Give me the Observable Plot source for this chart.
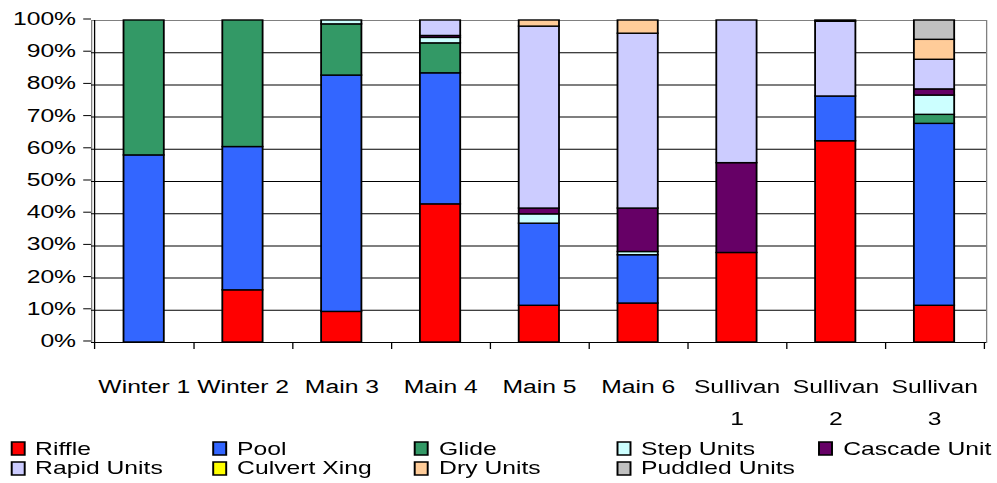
<!DOCTYPE html>
<html>
<head>
<meta charset="utf-8">
<script src="https://cdn.jsdelivr.net/npm/d3@7"></script>
<script src="https://cdn.jsdelivr.net/npm/@observablehq/plot@0.6"></script>
<style>
  html, body { margin: 0; padding: 0; background: #fff; overflow: hidden; }
  #wrap { width: 767px; transform: scaleX(1.3); transform-origin: 0 0; }
  .lg-swatches { font-family: "Liberation Sans", Arial, sans-serif; font-size: 19px; color: #000; margin: 14px 0 0 8.5px; }
  .lg-swatch { width: 155.4px; height: 19.5px; margin-right: 0; white-space: nowrap; }
  .lg-swatch > svg { margin-right: 8.5px; }
  .lg-swatch > svg rect { stroke: #000; stroke-width: 1.5px; }
</style>
</head>
<body>
<div id="wrap"></div>
<script>
// Habitat unit composition (% of surveyed length) per reach
const sites = ["Winter 1", "Winter 2", "Main 3", "Main 4", "Main 5", "Main 6", "Sullivan 1", "Sullivan 2", "Sullivan 3"];
const seriesNames = ["Riffle", "Pool", "Glide", "Step Units", "Cascade Unit", "Rapid Units", "Culvert Xing", "Dry Units", "Puddled Units"];
const seriesColors = ["#ff0000", "#3366ff", "#339966", "#ccffff", "#660066", "#ccccff", "#ffff00", "#ffcc99", "#c0c0c0"];

const riffle       = [0,    16.2, 9.5,  42.9, 11.4, 12.1, 27.8, 62.5, 11.4];
const pool         = [58.1, 44.5, 73.4, 40.7, 25.5, 15.0, 0,    13.9, 56.5];
const glide        = [41.9, 39.3, 15.9, 9.3,  0,    0,    0,    0,    2.8];
const stepUnits    = [0,    0,    1.2,  1.7,  2.9,  1.0,  0,    0,    6.0];
const cascadeUnit  = [0,    0,    0,    0.6,  1.8,  13.5, 27.9, 0,    1.9];
const rapidUnits   = [0,    0,    0,    4.8,  56.5, 54.3, 44.3, 23.2, 9.2];
const culvertXing  = [0,    0,    0,    0,    0,    0,    0,    0.4,  0];
const dryUnits     = [0,    0,    0,    0,    1.9,  4.1,  0,    0,    6.2];
const puddledUnits = [0,    0,    0,    0,    0,    0,    0,    0,    6.0];

const yTicks = [0, 10, 20, 30, 40, 50, 60, 70, 80, 90, 100];

const seriesValues = [riffle, pool, glide, stepUnits, cascadeUnit, rapidUnits, culvertXing, dryUnits, puddledUnits];
const rows = [];
seriesNames.forEach((type, i) => {
  sites.forEach((site, j) => {
    const value = seriesValues[i][j];
    if (value > 0) rows.push({site, type, value});
  });
});

// layout (the whole figure is stretched horizontally by 1.3)
const W = 997 / 1.3, H = 425;
const mL = 70, mR = 8.46, mT = 20, mB = 83;
const step = (W - mL - mR) / sites.length;
const font = "Liberation Sans, Arial, sans-serif";

const chart = Plot.plot({
  width: W,
  height: H,
  marginLeft: mL,
  marginRight: mR,
  marginTop: mT,
  marginBottom: mB,
  style: {fontFamily: font, fontSize: "19px", color: "#000", background: "#fff", overflow: "visible"},
  x: {domain: sites, paddingInner: 0.588, paddingOuter: 0.294, label: null},
  y: {domain: [0, 100], label: null},
  color: {domain: seriesNames, range: seriesColors},
  marks: [
    Plot.frame({stroke: "#808080"}),
    Plot.gridY(yTicks.filter(d => d > 0 && d < 100), {stroke: "#000", strokeOpacity: 1}),
    Plot.barY(rows, {x: "site", y: "value", fill: "type", stroke: "#000", strokeWidth: 1.4}),
    Plot.ruleY([0], {stroke: "#000"}),
    Plot.ruleX([sites[0]], {y1: 0, y2: 100, dx: -step / 2, stroke: "#000"}),
    Plot.axisY(yTicks, {label: null, tickSize: 6, tickPadding: 6, dy: -1.5, tickFormat: d => d + "%", stroke: "#000"}),
    Plot.axisX({label: null, tickSize: 7, tickFormat: () => "", dx: step / 2, stroke: "#000"}),
    Plot.axisX([sites[0]], {label: null, tickSize: 7, tickFormat: () => "", dx: -step / 2, stroke: "#000"}),
    Plot.axisX({label: null, tickSize: 0, tickPadding: 28.5, lineHeight: 1.66, tickFormat: d => d.replace("Sullivan ", "Sullivan\n")})
  ]
});

const legend = chart.legend("color", {className: "lg", swatchWidth: 10, swatchHeight: 13, width: 800});

const wrap = document.getElementById("wrap");
wrap.appendChild(chart);
wrap.appendChild(legend);
</script>
</body>
</html>
